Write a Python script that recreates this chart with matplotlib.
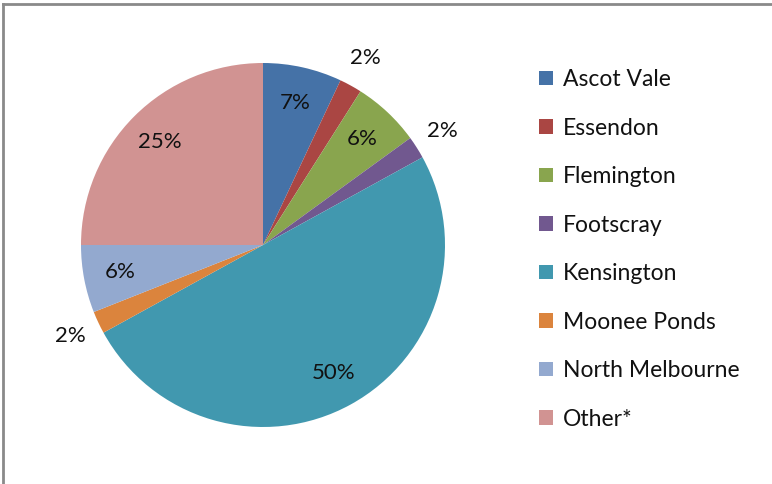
import matplotlib.pyplot as plt
import numpy as np

# 各區域比例 (%)
suburbs = ['Ascot Vale', 'Essendon', 'Flemington', 'Footscray',
           'Kensington', 'Moonee Ponds', 'North Melbourne', 'Other*']
shares = [7, 2, 6, 2, 50, 2, 6, 25]
colors = ['#4572A7', '#AA4643', '#89A54E', '#71588F',
          '#4198AF', '#DB843D', '#93A9CF', '#D19392']

plt.rcParams['font.family'] = ['Lato', 'DejaVu Sans']

fig = plt.figure(figsize=(7.72, 4.84), dpi=100)
ax = fig.add_axes([81 / 772, 57 / 484, 364 / 772, 364 / 484])

wedges, _ = ax.pie(shares, colors=colors, startangle=90, counterclock=False,
                   wedgeprops=dict(linewidth=0))
ax.set_xlim(-1, 1)
ax.set_ylim(-1, 1)
ax.set_aspect('equal')

# 百分比標籤：小的放外面
for w, v in zip(wedges, shares):
    ang = np.deg2rad((w.theta1 + w.theta2) / 2)
    r = 1.17 if v < 3 else 0.8
    ax.text(r * np.cos(ang), r * np.sin(ang), '{}%'.format(v),
            ha='center', va='center', fontsize=16, color='#111111')

leg = fig.legend(wedges, suburbs, loc='upper left',
                 bbox_to_anchor=(530 / 772, 1 - 60 / 484),
                 frameon=False, fontsize=16.5, handlelength=0.6, handleheight=0.6,
                 handletextpad=0.45, labelspacing=1.2, borderaxespad=0)
for t in leg.get_texts():
    t.set_color('#111111')

# 外框
fig.add_artist(plt.Line2D([3 / 772, 3 / 772], [0, 1 - 4 / 484], color='#8a8a8a', lw=2))
fig.add_artist(plt.Line2D([3 / 772, 1], [1 - 4 / 484, 1 - 4 / 484], color='#8a8a8a', lw=2))

fig.savefig('out.png', dpi=100)
